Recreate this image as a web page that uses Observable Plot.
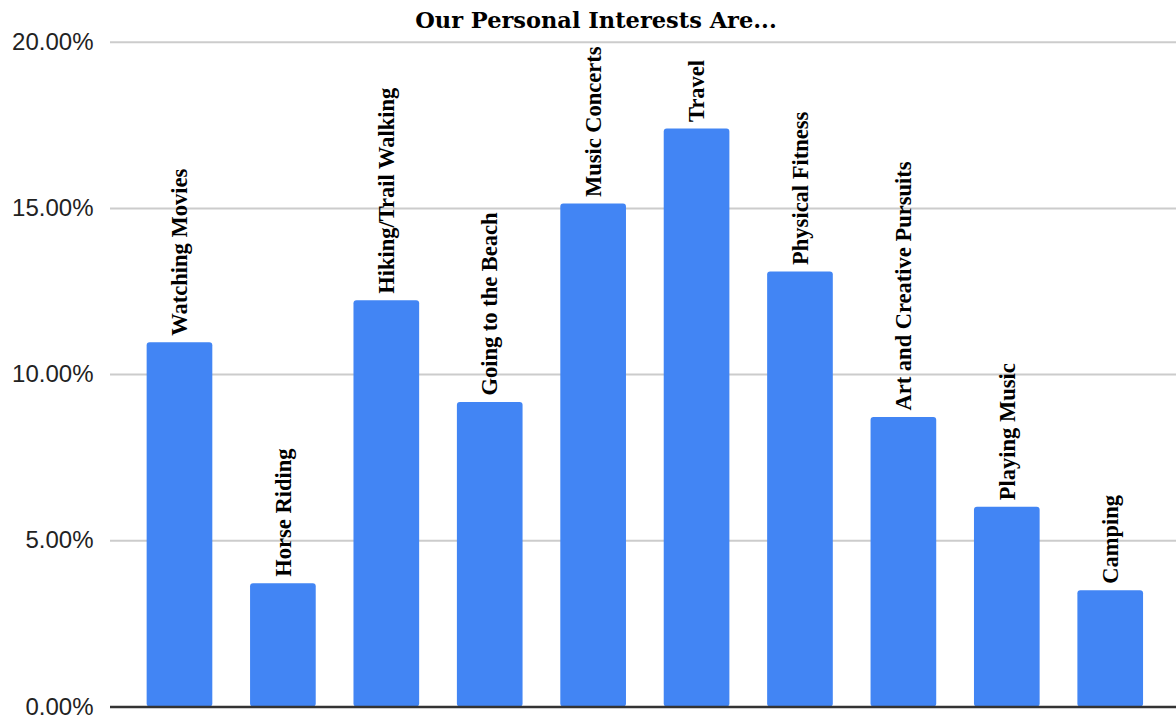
<!DOCTYPE html>
<html>
<head>
<meta charset="utf-8">
<script src="https://cdn.jsdelivr.net/npm/d3@7"></script>
<script src="https://cdn.jsdelivr.net/npm/@observablehq/plot@0.6"></script>
<style>
  body { margin: 0; background: #fff; }
  #title { width: 1176px; height: 34px; padding-top: 6px; line-height: 28px; text-align: center; padding-left: 16px; box-sizing: border-box;
    font-family: "DejaVu Serif", serif; font-weight: bold; font-size: 22.5px; color: #000; position: relative; z-index: 1; }
  svg { display: block; overflow: visible; }
</style>
</head>
<body>
<div id="title">Our Personal Interests Are...</div>
<div id="chart"></div>
<script>
const categories = ["Watching Movies", "Horse Riding", "Hiking/Trail Walking", "Going to the Beach", "Music Concerts",
  "Travel", "Physical Fitness", "Art and Creative Pursuits", "Playing Music", "Camping"];
const values = [10.96, 3.71, 12.22, 9.16, 15.13, 17.39, 13.09, 8.71, 6.01, 3.50];
const yTicks = [0, 5, 10, 15, 20];

const data = categories.map((c, i) => ({category: c, value: values[i]}));

const chart = Plot.plot({
  width: 1176,
  height: 683,
  marginTop: 7.7,
  marginBottom: 10.5,
  marginLeft: 110,
  marginRight: 0,
  x: {domain: categories, range: [108.9, 1180.8], padding: 0.365, round: false, axis: null},
  y: {domain: [0, 20], ticks: yTicks, tickFormat: d => d.toFixed(2) + "%", label: null},
  style: {fontFamily: "'Liberation Sans', Arial, sans-serif", overflow: "visible", background: "transparent"},
  marks: [
    Plot.ruleY(yTicks.filter(d => d > 0), {stroke: "#cccccc", strokeWidth: 2, strokeOpacity: 1}),
    Plot.axisY({ticks: yTicks, tickFormat: d => d.toFixed(2) + "%", tickSize: 0, tickPadding: 17, fontSize: 24, label: null, fill: "#222"}),
    Plot.barY(data, {x: "category", y: "value", fill: "#4285f4", rx: 3}),
    Plot.ruleY([0], {stroke: "#333333", strokeWidth: 2.5}),
    Plot.text(data, {x: "category", y: "value", text: "category", rotate: -90, textAnchor: "start", lineAnchor: "middle",
      dy: -7, fontFamily: "'Liberation Serif', 'Times New Roman', serif", fontWeight: "bold", fontSize: 22.5, fill: "#000"})
  ]
});
document.getElementById("chart").appendChild(chart);
</script>
</body>
</html>
